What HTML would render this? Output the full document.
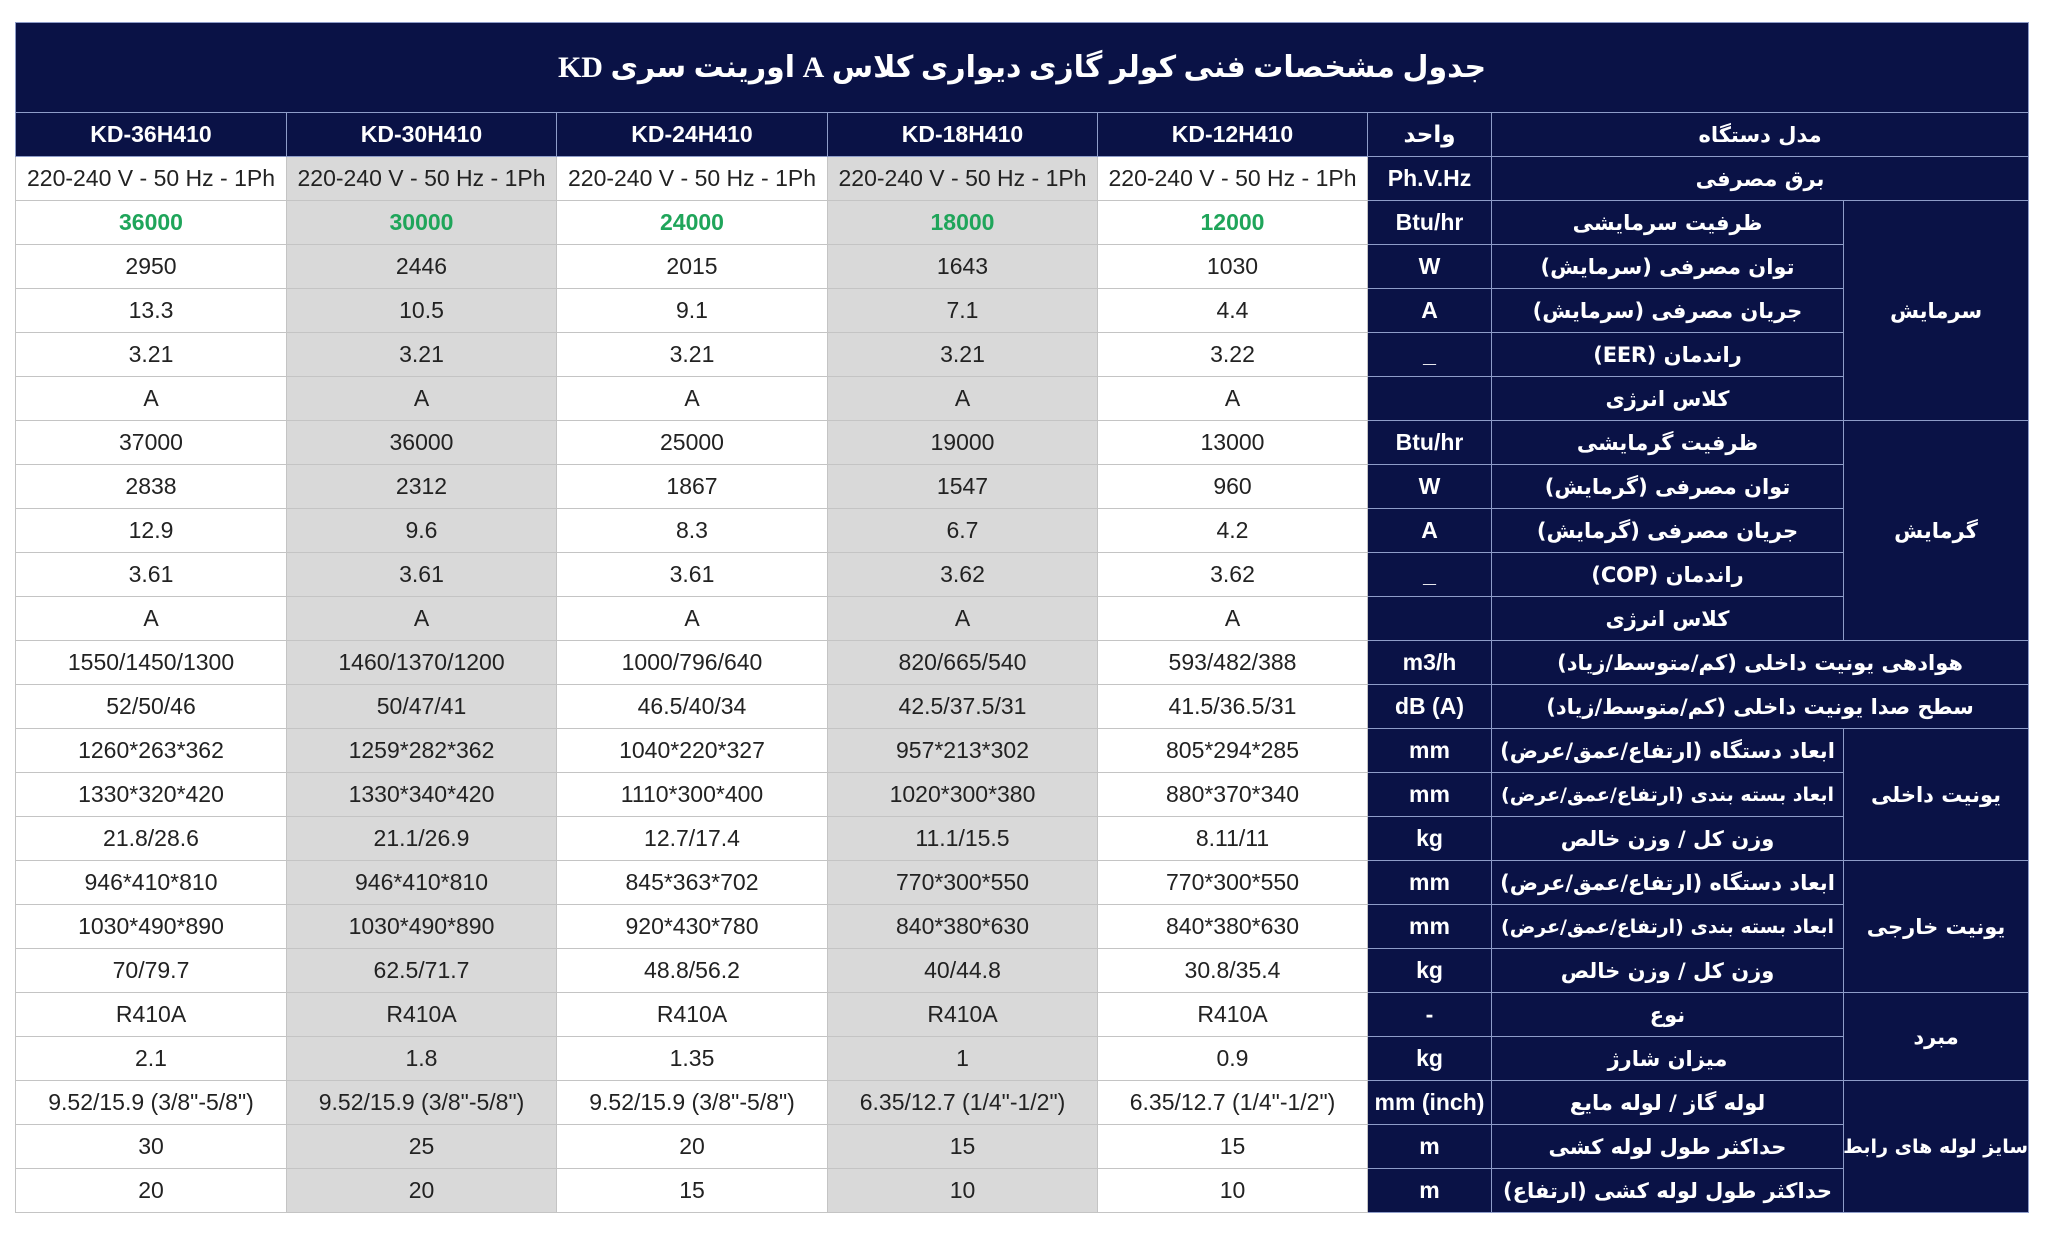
<!DOCTYPE html>
<html><head><meta charset="utf-8"><style>
html,body{margin:0;padding:0;background:#fff;width:2048px;height:1236px;overflow:hidden}
table{position:absolute;left:15px;top:22px;border-collapse:collapse;table-layout:fixed;width:2013px}
td{height:43px;padding:0;text-align:center;vertical-align:middle;font-family:"Liberation Sans","DejaVu Sans",sans-serif;font-size:23px;color:#222;border:1.5px solid #c4c4c4;white-space:nowrap;overflow:hidden}
td.g{background:#d9d9d9}
td.n{background:#0a1246;color:#fff;font-weight:bold;border-color:#8e9cc8}
td.f{font-family:"DejaVu Sans",sans-serif;font-size:21px;direction:rtl;letter-spacing:-0.3px}
td.s{font-size:19px;letter-spacing:-0.8px}
td.gr{color:#1fa55a;font-weight:bold}
tr.t td{height:89px;font-size:30px;font-family:"Liberation Serif","DejaVu Sans",serif;direction:rtl}
</style></head><body>
<table>
<colgroup><col style="width:271px"><col style="width:270px"><col style="width:271px"><col style="width:270px"><col style="width:270px"><col style="width:124px"><col style="width:352px"><col style="width:185px"></colgroup>
<tr class="t"><td class="n" colspan="8">جدول مشخصات فنی کولر گازی دیواری کلاس A اورینت سری KD</td></tr>
<tr><td class="n">KD-36H410</td><td class="n">KD-30H410</td><td class="n">KD-24H410</td><td class="n">KD-18H410</td><td class="n">KD-12H410</td><td class="n">واحد</td><td class="n f" colspan="2">مدل دستگاه</td></tr>
<tr><td>220-240 V - 50 Hz - 1Ph</td><td class="g">220-240 V - 50 Hz - 1Ph</td><td>220-240 V - 50 Hz - 1Ph</td><td class="g">220-240 V - 50 Hz - 1Ph</td><td>220-240 V - 50 Hz - 1Ph</td><td class="n">Ph.V.Hz</td><td class="n f" colspan="2">برق مصرفی</td></tr>
<tr><td class="gr">36000</td><td class="g gr">30000</td><td class="gr">24000</td><td class="g gr">18000</td><td class="gr">12000</td><td class="n">Btu/hr</td><td class="n f">ظرفیت سرمایشی</td><td class="n f" rowspan="5">سرمایش</td></tr>
<tr><td>2950</td><td class="g">2446</td><td>2015</td><td class="g">1643</td><td>1030</td><td class="n">W</td><td class="n f">توان مصرفی (سرمایش)</td></tr>
<tr><td>13.3</td><td class="g">10.5</td><td>9.1</td><td class="g">7.1</td><td>4.4</td><td class="n">A</td><td class="n f">جریان مصرفی (سرمایش)</td></tr>
<tr><td>3.21</td><td class="g">3.21</td><td>3.21</td><td class="g">3.21</td><td>3.22</td><td class="n">_</td><td class="n f">راندمان (EER)</td></tr>
<tr><td>A</td><td class="g">A</td><td>A</td><td class="g">A</td><td>A</td><td class="n"></td><td class="n f">کلاس انرژی</td></tr>
<tr><td>37000</td><td class="g">36000</td><td>25000</td><td class="g">19000</td><td>13000</td><td class="n">Btu/hr</td><td class="n f">ظرفیت گرمایشی</td><td class="n f" rowspan="5">گرمایش</td></tr>
<tr><td>2838</td><td class="g">2312</td><td>1867</td><td class="g">1547</td><td>960</td><td class="n">W</td><td class="n f">توان مصرفی (گرمایش)</td></tr>
<tr><td>12.9</td><td class="g">9.6</td><td>8.3</td><td class="g">6.7</td><td>4.2</td><td class="n">A</td><td class="n f">جریان مصرفی (گرمایش)</td></tr>
<tr><td>3.61</td><td class="g">3.61</td><td>3.61</td><td class="g">3.62</td><td>3.62</td><td class="n">_</td><td class="n f">راندمان (COP)</td></tr>
<tr><td>A</td><td class="g">A</td><td>A</td><td class="g">A</td><td>A</td><td class="n"></td><td class="n f">کلاس انرژی</td></tr>
<tr><td>1550/1450/1300</td><td class="g">1460/1370/1200</td><td>1000/796/640</td><td class="g">820/665/540</td><td>593/482/388</td><td class="n">m3/h</td><td class="n f" colspan="2">هوادهی یونیت داخلی (کم/متوسط/زیاد)</td></tr>
<tr><td>52/50/46</td><td class="g">50/47/41</td><td>46.5/40/34</td><td class="g">42.5/37.5/31</td><td>41.5/36.5/31</td><td class="n">dB (A)</td><td class="n f" colspan="2">سطح صدا یونیت داخلی (کم/متوسط/زیاد)</td></tr>
<tr><td>1260*263*362</td><td class="g">1259*282*362</td><td>1040*220*327</td><td class="g">957*213*302</td><td>805*294*285</td><td class="n">mm</td><td class="n f">ابعاد دستگاه (ارتفاع/عمق/عرض)</td><td class="n f" rowspan="3">یونیت داخلی</td></tr>
<tr><td>1330*320*420</td><td class="g">1330*340*420</td><td>1110*300*400</td><td class="g">1020*300*380</td><td>880*370*340</td><td class="n">mm</td><td class="n f s">ابعاد بسته بندی (ارتفاع/عمق/عرض)</td></tr>
<tr><td>21.8/28.6</td><td class="g">21.1/26.9</td><td>12.7/17.4</td><td class="g">11.1/15.5</td><td>8.11/11</td><td class="n">kg</td><td class="n f">وزن کل / وزن خالص</td></tr>
<tr><td>946*410*810</td><td class="g">946*410*810</td><td>845*363*702</td><td class="g">770*300*550</td><td>770*300*550</td><td class="n">mm</td><td class="n f">ابعاد دستگاه (ارتفاع/عمق/عرض)</td><td class="n f" rowspan="3">یونیت خارجی</td></tr>
<tr><td>1030*490*890</td><td class="g">1030*490*890</td><td>920*430*780</td><td class="g">840*380*630</td><td>840*380*630</td><td class="n">mm</td><td class="n f s">ابعاد بسته بندی (ارتفاع/عمق/عرض)</td></tr>
<tr><td>70/79.7</td><td class="g">62.5/71.7</td><td>48.8/56.2</td><td class="g">40/44.8</td><td>30.8/35.4</td><td class="n">kg</td><td class="n f">وزن کل / وزن خالص</td></tr>
<tr><td>R410A</td><td class="g">R410A</td><td>R410A</td><td class="g">R410A</td><td>R410A</td><td class="n">-</td><td class="n f">نوع</td><td class="n f" rowspan="2">مبرد</td></tr>
<tr><td>2.1</td><td class="g">1.8</td><td>1.35</td><td class="g">1</td><td>0.9</td><td class="n">kg</td><td class="n f">میزان شارژ</td></tr>
<tr><td>9.52/15.9 (3/8"-5/8")</td><td class="g">9.52/15.9 (3/8"-5/8")</td><td>9.52/15.9 (3/8"-5/8")</td><td class="g">6.35/12.7 (1/4"-1/2")</td><td>6.35/12.7 (1/4"-1/2")</td><td class="n">mm (inch)</td><td class="n f">لوله گاز / لوله مایع</td><td class="n f s" rowspan="3">سایز لوله های رابط</td></tr>
<tr><td>30</td><td class="g">25</td><td>20</td><td class="g">15</td><td>15</td><td class="n">m</td><td class="n f">حداکثر طول لوله کشی</td></tr>
<tr><td>20</td><td class="g">20</td><td>15</td><td class="g">10</td><td>10</td><td class="n">m</td><td class="n f">حداکثر طول لوله کشی (ارتفاع)</td></tr>
</table>
</body></html>
